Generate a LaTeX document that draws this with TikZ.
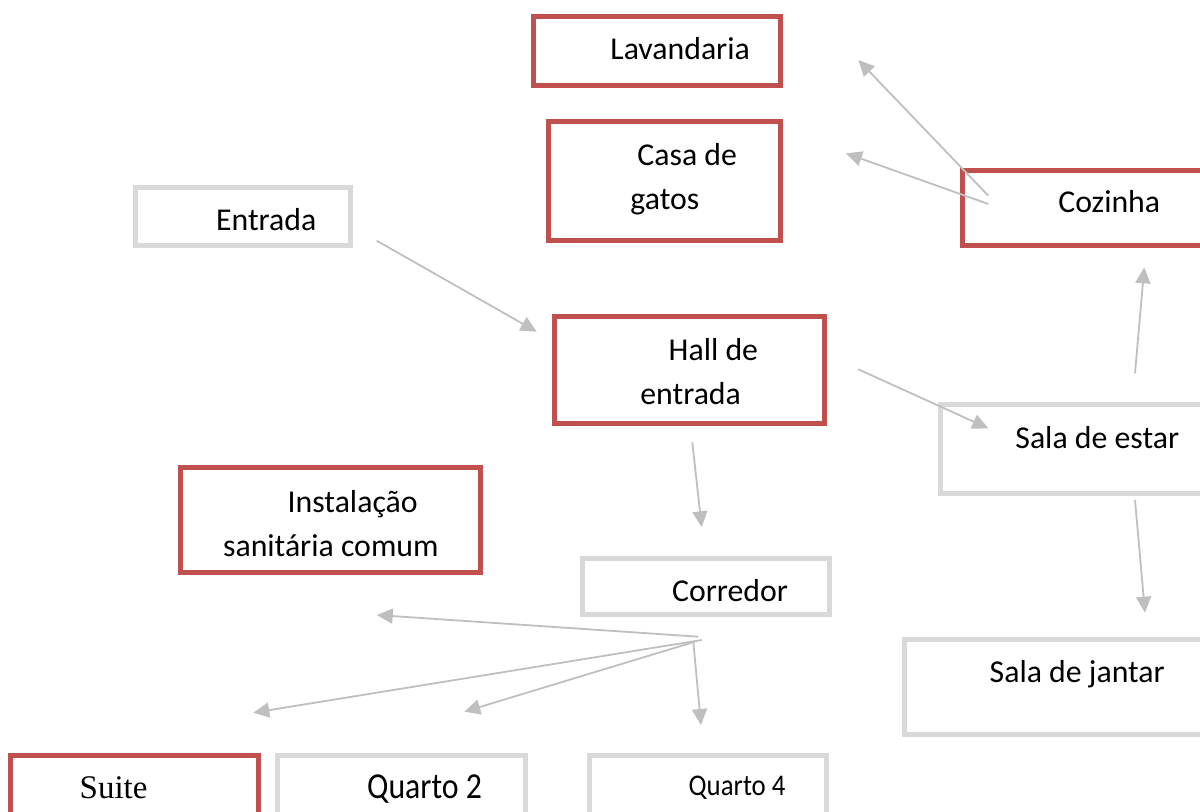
\documentclass[tikz,border=0pt]{standalone}
\usepackage{fontspec}
\setmainfont{Carlito}
\newfontfamily\suitefont{Liberation Serif}
\usepackage{tikz}
\usetikzlibrary{arrows.meta}

\definecolor{roomred}{HTML}{C0504D}
\definecolor{roomgray}{HTML}{D9D9D9}
\definecolor{linkgray}{HTML}{BFBFBF}

\tikzset{
  room/.style={draw=#1, line width=2.5pt, inner sep=0pt, fill=white},
  label/.style={anchor=base west, inner sep=0pt, font=\fontsize{15.9}{22}\selectfont},
  link/.style={draw=linkgray, line width=0.9pt, -{Triangle[length=8pt,width=7.5pt]}}
}

\begin{document}
\begin{tikzpicture}[x=0.5pt,y=-0.5pt]
  \useasboundingbox (0,0) rectangle (1200,812);
  \clip (0,0) rectangle (1200,812);

  % rooms
  \node[room=roomred, minimum width=123.25pt, minimum height=34.65pt] (lav) at (656.75,51.35) {};
  \node[room=roomred, minimum width=115.85pt, minimum height=59.65pt] (casa) at (664.15,181.15) {};
  \node[room=roomgray, minimum width=107.25pt, minimum height=28.6pt] (ent) at (242.75,216.6) {};
  \node[room=roomred, minimum width=133.6pt, minimum height=37.8pt] (coz) at (1096.4,208) {};
  \node[room=roomred, minimum width=134.7pt, minimum height=53.35pt] (hall) at (689.5,369.85) {};
  \node[room=roomgray, minimum width=144.6pt, minimum height=44.75pt] (estar) at (1085.4,448.95) {};
  \node[room=roomred, minimum width=150pt, minimum height=52.2pt] (sanit) at (330.3,520) {};
  \node[room=roomgray, minimum width=123.2pt, minimum height=27.85pt] (corr) at (706,586.35) {};
  \node[room=roomgray, minimum width=162.9pt, minimum height=47.4pt] (jantar) at (1067.1,687.1) {};
  \node[room=roomred, minimum width=123.9pt, minimum height=37.1pt] (suite) at (134.4,792.9) {};
  \node[room=roomgray, minimum width=123.7pt, minimum height=37.25pt] (q2) at (401.5,792.75) {};
  \node[room=roomgray, minimum width=118.25pt, minimum height=37.25pt] (q4) at (707.75,792.75) {};

  % names
  \node[label] (lav-t) at (610,60) {Lavandaria};
  \node[label] (casa-t1) at (637,166) {Casa de};
  \node[label] (casa-t2) at (630,210) {gatos};
  \node[label] (ent-t) at (215.7,231) {Entrada};
  \node[label] (coz-t) at (1058,212.7) {Cozinha};
  \node[label] (hall-t1) at (668.3,361) {Hall de};
  \node[label] (hall-t2) at (640,405) {entrada};
  \node[label] (estar-t) at (1015,448.3) {Sala de estar};
  \node[label] (sanit-t1) at (287.3,512.3) {Instalação};
  \node[label] (sanit-t2) at (222.7,556.7) {sanitária comum};
  \node[label] (corr-t) at (671.7,601.7) {Corredor};
  \node[label] (jantar-t) at (989.3,682.7) {Sala de jantar};
  \node[label, font=\suitefont\fontsize{16.5}{20}\selectfont] (suite-t) at (79.3,798.3) {Suite};
  \node[label] (q2-t) at (366.7,798.3) {\scalebox{1}[1.15]{Quarto 2}};
  \node[label, font=\fontsize{13.4}{16}\selectfont] (q4-t) at (688.3,795) {\scalebox{1}[1.12]{Quarto 4}};

  % arrow ends
  \coordinate (a1) at (376.7,240.7);  \coordinate (b1) at (536.7,331.7);
  \coordinate (a2) at (858.3,369.3);  \coordinate (b2) at (988.3,428.3);
  \coordinate (a3) at (692.3,442.3);  \coordinate (b3) at (701.7,527.3);
  \coordinate (a4) at (1135,373.3);   \coordinate (b4) at (1144.3,267.3);
  \coordinate (a5) at (1135,500);     \coordinate (b5) at (1145,612.7);
  \coordinate (a6) at (988.3,195.7);  \coordinate (b6) at (858.3,60);
  \coordinate (a7) at (988.3,204);    \coordinate (b7) at (846,153.3);
  \coordinate (a8) at (698.3,636.7);  \coordinate (b8) at (376.7,615);
  \coordinate (a9) at (701.7,640);    \coordinate (b9) at (253.3,712.7);
  \coordinate (a10) at (695,641.7);   \coordinate (b10) at (464.3,711.7);
  \coordinate (a11) at (693.3,641.7); \coordinate (b11) at (701,725);

  \foreach \i in {1,...,11}
    \draw[link] (a\i) -- (b\i);

\end{tikzpicture}
\end{document}
